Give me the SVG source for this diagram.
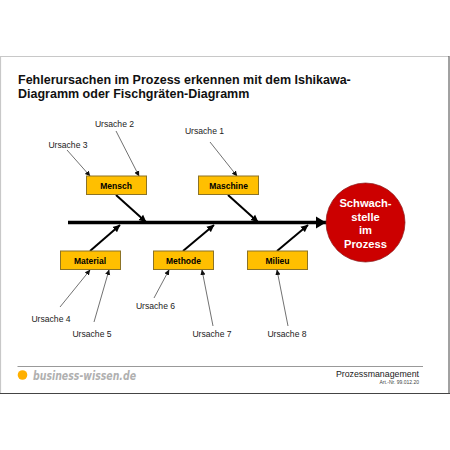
<svg xmlns="http://www.w3.org/2000/svg" width="450" height="450" viewBox="0 0 450 450">
<defs>
<marker id="a" markerUnits="userSpaceOnUse" markerWidth="6" markerHeight="6" refX="5" refY="3" orient="auto"><path d="M0,0.4L5.5,3L0,5.6Z" fill="#111"/></marker>
<marker id="b" markerUnits="userSpaceOnUse" markerWidth="8" markerHeight="8" refX="7" refY="4" orient="auto"><path d="M0,0.5L7.5,4L0,7.5Z" fill="#000"/></marker>
</defs>
<style>
text{font-family:"Liberation Sans",Arial,sans-serif}
.u{font-size:8.6px;fill:#222;text-anchor:middle}
.n{font-size:8.5px;font-weight:700;fill:#000;text-anchor:middle}
.box{fill:#ffbf00;stroke:#8c7326;stroke-width:1}
.t{font-size:12.5px;font-weight:700;fill:#111}
.c{font-size:11.2px;font-weight:700;fill:#fff;text-anchor:middle}
.thin{stroke:#333;stroke-width:.7;fill:none;marker-end:url(#a)}
.thick{stroke:#000;stroke-width:2;fill:none;marker-end:url(#b)}
</style>
<rect width="450" height="450" fill="#fff"/>
<path d="M0.5,393.5V56.5H449" fill="none" stroke="#c8c8c8" stroke-width="1.2"/>
<path d="M449,56V393" fill="none" stroke="#444" stroke-width="1"/>
<path d="M0,393.500H450" fill="none" stroke="#444" stroke-width="1"/>
<text class="t" x="18" y="84">Fehlerursachen im Prozess erkennen mit dem Ishikawa-</text>
<text class="t" x="18" y="98">Diagramm oder Fischgräten-Diagramm</text>
<g id="connectors">
<path d="M68,222.500H327" stroke="#000" stroke-width="3.500" fill="none"/>
<path d="M316,216.500L326,222.500L316,228.500Z" fill="#000"/>
<path class="thin" d="M116,131L139,176"/>
<path class="thin" d="M67,150L90,176"/>
<path class="thin" d="M210,142L237,176"/>
<path class="thin" d="M60,307L90,270"/>
<path class="thin" d="M94,322L109,270"/>
<path class="thin" d="M154,298L169,270"/>
<path class="thin" d="M213,326L202,270"/>
<path class="thin" d="M288,326L277,270"/>
<path class="thick" d="M116,195L146,222"/>
<path class="thick" d="M228,195L258,222"/>
<path class="thick" d="M90,251L120,225"/>
<path class="thick" d="M183,251L214,225"/>
<path class="thick" d="M277,251L308,225"/>
</g>
<g id="mensch"><rect class="box" x="86.500" y="176" width="60" height="18.500"/><text class="n" x="116" y="189">Mensch</text></g>
<g id="maschine"><rect class="box" x="198.500" y="176" width="60" height="18.500"/><text class="n" x="228.500" y="189">Maschine</text></g>
<g id="material"><rect class="box" x="60.500" y="251" width="60" height="18.500"/><text class="n" x="90" y="264">Material</text></g>
<g id="methode"><rect class="box" x="153.500" y="251" width="60" height="18.500"/><text class="n" x="183.500" y="264">Methode</text></g>
<g id="milieu"><rect class="box" x="247.500" y="251" width="60" height="18.500"/><text class="n" x="277.500" y="264">Milieu</text></g>
<g id="problem"><circle cx="365.500" cy="222.500" r="39.500" fill="#cc0000" stroke="#8a1a1a" stroke-width=".7"/>
<text class="c" x="365.500" y="207">Schwach-</text><text class="c" x="365.500" y="221">stelle</text><text class="c" x="365.500" y="234">im</text><text class="c" x="365.500" y="247.500">Prozess</text></g>
<g id="u1"><text class="u" x="204.500" y="134">Ursache 1</text></g>
<g id="u2"><text class="u" x="114.500" y="127">Ursache 2</text></g>
<g id="u3"><text class="u" x="68" y="148">Ursache 3</text></g>
<g id="u4"><text class="u" x="51" y="322">Ursache 4</text></g>
<g id="u5"><text class="u" x="92" y="337">Ursache 5</text></g>
<g id="u6"><text class="u" x="155.500" y="309">Ursache 6</text></g>
<g id="u7"><text class="u" x="212" y="337">Ursache 7</text></g>
<g id="u8"><text class="u" x="287" y="337">Ursache 8</text></g>
<path d="M17.500,366.500H423" stroke="#999" stroke-width="1" fill="none"/>
<circle cx="22.500" cy="375" r="4.800" fill="#ffb000"/>
<text x="33" y="379.500" font-size="12" font-weight="700" font-style="italic" fill="#b0b0b0" style="font-family:'DejaVu Sans',sans-serif" textLength="103" lengthAdjust="spacingAndGlyphs">business-wissen.de</text>
<text x="419" y="377" font-size="8.8" fill="#222" text-anchor="end">Prozessmanagement</text>
<text x="419" y="384" font-size="5" fill="#444" text-anchor="end">Art.-Nr. 99.012.20</text>
</svg>
